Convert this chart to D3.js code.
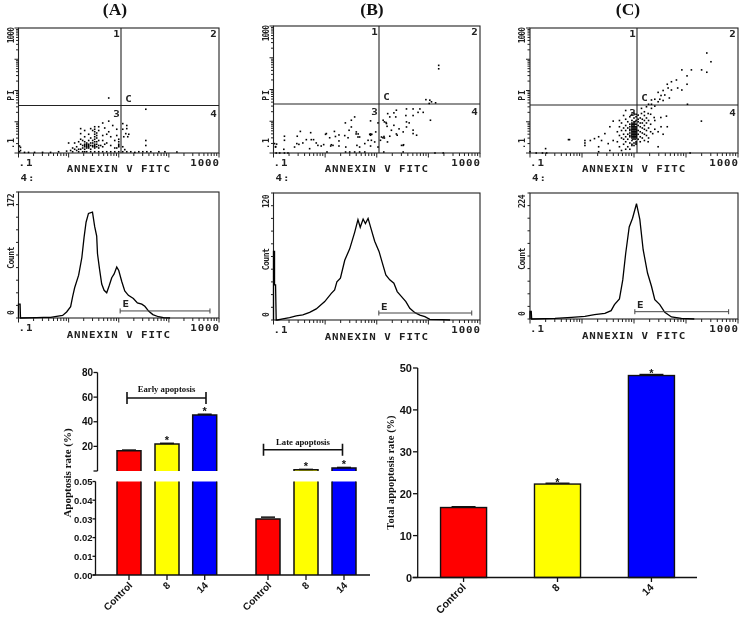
<!DOCTYPE html>
<html><head><meta charset="utf-8">
<script src="https://cdnjs.cloudflare.com/ajax/libs/d3/7.8.5/d3.min.js"></script>
<style>html,body{margin:0;padding:0;background:#fff}svg{display:block}
.flow{filter:blur(0.3px)}
.ft{font-family:"DejaVu Sans Mono",monospace;font-size:8px;fill:#222;font-weight:bold}
.num{font-family:"Liberation Sans",Arial,sans-serif;font-weight:bold;fill:#111}
.ser{font-family:"Liberation Serif","Times New Roman",serif;font-weight:bold;fill:#111}
</style></head><body><div id="c"></div>
<script>
// Scatter events: [annexin channel, PI channel], channels 0-100 over four decades
const scatterA=[[29,5],[30,3],[31,7],[32,4],[32,6],[33,5],[33,7],[34,6],[34,4],[34,8],[35,5],[35,7],[36,6],[36,3],[37,5],[37,8],[38,6],[38,4],[39,7],[39,5],[40,6],[40,10],[38,11],[38,13],[38,15],[39,12],[39,14],[36,12],[35,15],[33,13],[31,11],[30,9],[28,8],[27,4],[25,8],[29,2],[31,15.5],[31,19.5],[33,18],[36,19.5],[38,21],[40,21],[37,18],[40,18],[42,14],[44,15],[42,10],[44,8],[46,6],[46,13],[48,10],[49,14],[48,4],[45,17],[43,20],[42,24],[45,25.5],[47,22],[49,19],[50,11],[50,7],[50,6],[50,5],[50,9],[49,4],[45,44],[63.5,35],[54,22],[54,19.5],[52,23.5],[52,19],[53.5,15.5],[55,15],[54.5,13],[52.5,13],[63.5,10],[63.5,6],[53,2.7],[52,5],[0.5,5.6],[1,2],[1,4.5],[0.5,1],[3,.5],[5,.5],[8,.5],[12,.5],[16,.5],[20,1],[24,1.5],[27,1],[33,1],[36,1],[40,1],[44,1],[58,.5],[70,1],[73,1],[79,.8],[33,6],[34,7],[35,6],[34,5],[35,4],[37,6],[38,7],[38,5],[33,3],[36,8],[37,10],[35,10],[33,9],[32,10],[31,3],[40,4],[41,6],[42,5],[43,7],[39,9],[38,9],[38,17],[39,16],[38,19],[28,3],[26,2],[30,1],[32,1],[34,1],[38,1],[42,1],[46,1],[48,1],[50,1],[52,1],[54,1],[56,1],[60,1],[62,1],[64,1],[66,1]];
const scatterB=[[5.3,13.2],[5.3,10],[5,2.9],[1,4.7],[.5,7.4],[10.2,4.7],[11.3,7.4],[11.5,13.2],[13,17],[18,16],[12.3,6.8],[14.2,7.9],[15.9,10.5],[18.3,10.5],[19.4,10.5],[20.7,7.9],[17.5,3.4],[21.5,6],[23.1,5.5],[24.3,6.6],[25.6,15.3],[25.2,14.7],[27.2,12],[29.5,17],[27.7,5.5],[28.8,6],[31.7,9.5],[31.7,5.5],[31.7,14.2],[34.5,13.7],[36.1,12],[36.6,17.9],[35,4.7],[37.7,20.5],[39.3,28.4],[37.7,25.8],[34.8,23.7],[40.1,16.6],[40.9,12.6],[41.7,12.6],[40.4,6],[41.7,4.7],[44.2,7.4],[45.8,10],[46.6,14.7],[47.6,14.7],[47.4,10],[47,25.3],[50.6,23.7],[49.5,16.6],[49,8.7],[47,5.5],[50.6,4.7],[51.8,10],[52.3,12.6],[53.7,11.8],[53.7,24.5],[54.7,23.2],[55,21],[53.1,25.8],[55.3,31],[56.3,28.4],[58.3,31.6],[59.5,33.7],[59.2,28.4],[58.3,21.8],[57.1,17.9],[56.3,13.2],[55.2,8.7],[59.5,15],[59.9,14],[60.8,19],[64.4,24.5],[65.7,23.7],[64.1,29.5],[64.4,34.7],[67.6,34.7],[67.6,29.5],[70,32],[70.9,34.7],[72.5,32],[67.6,18],[67.6,15.3],[69.3,14],[62.8,6],[62.8,16.6],[64.4,20.5],[76,25.8],[73.8,42],[75.7,41.6],[75.4,39],[76.5,40.3],[78.5,39.5],[80,69],[80,66.3],[25.9,.8],[34.9,.8],[36.9,.8],[39.3,.8],[41.7,.8],[44.2,.8],[53.4,.8],[62.8,.8],[78.2,0],[82.2,0],[1.3,0],[3,0],[5.3,0],[7,0],[53,12],[53.5,13],[62,6],[63,6.5],[54.5,24],[1,5],[1.5,7],[30,13],[28,6.5],[40,15],[41,15],[47,14],[47,15]];
const scatterC=[[85,80],[87,73],[82.5,66.5],[85,64.6],[77.6,66.5],[73,66.5],[75.5,61.7],[75.5,55],[70.4,58.4],[68,57],[66,55],[66.4,52],[71,52],[73,50.4],[68,50.4],[64,50],[61.6,48.5],[64.8,46.4],[67,44],[63,46],[62.4,43],[60,43],[58.4,42.4],[64,42],[61.6,41],[75.7,39],[58.4,39],[60,37.5],[57,39],[56,37],[58.4,35.7],[55,33],[53.6,35.7],[53.6,31.6],[52,30.3],[56.8,31.6],[59.7,28.4],[65.6,29.5],[62.9,28.4],[82.4,25.5],[66,21],[61.6,17],[59,15.5],[61.6,5],[56.8,9],[77,0],[19,10.7],[18.5,10.7],[7.5,3.5],[0,1],[3,0],[6,0],[8,0],[26.4,10],[26.4,8],[26.4,6],[29,10],[31,11.5],[33,13],[36,15.5],[40,25.5],[38.4,21],[34.4,10],[37.6,7.5],[40,10],[33,5],[38.4,2],[44,2],[33,1],[42,17],[43,14],[42,9],[43,5],[43,21],[44,12],[44,18],[44,24],[45,7],[45,11],[45,15],[45,20],[46,3],[46,9],[46,13],[46,18],[46,22],[46,27],[47,5],[47,11],[47,15],[47,20],[47,25],[48,3],[48,8],[48,13],[48,16],[48,19],[48,23],[48,29],[49,6],[49,10],[49,14],[49,18],[49,22],[49,26],[49,31],[50,8],[50,12],[50,13],[50,14],[50,15],[50,16],[50,17],[50,18],[50,19],[50,20],[50,21],[50,22],[50,23],[50,24],[50,25],[50,28],[50,32],[51,8],[51,9],[51,12],[51,14],[51,16],[51,18],[51,20],[51,21],[51,23],[51,26],[51,29],[51,31],[52,11],[52,15],[52,18],[52,22],[52,25],[52,27],[53,9],[53,13],[53,17],[53,21],[53,24],[53,28],[54,12],[54,16],[54,20],[54,24],[54,27],[55,10],[55,15],[55,19],[55,22],[55,26],[55,30],[56,14],[56,18],[56,24],[56,28],[57,12],[57,20],[57,26],[58,17],[58,23],[58,31],[60,19],[60,26],[63,21],[64,15],[46,34],[45,30],[43,26],[49,12],[49,13],[49,15],[49,16],[49,17],[49,19],[49,20],[49,21],[49,23],[49,24],[49.5,11],[49.5,13],[49.5,15],[49.5,17],[49.5,19],[49.5,21],[49.5,23],[50.5,11],[50.5,13],[50.5,15],[50.5,17],[50.5,19],[50.5,21],[50.5,23],[50.5,25],[51,13],[51,15],[51,17],[51,19],[48,14],[48,18],[48,21],[49,7],[50,6],[51,7]];
// Histogram traces: [annexin channel, relative count %]
const histA=[[0,0],[0,11],[.8,11],[1,0],[9,.3],[12.5,.5],[16,.5],[19,1.3],[22,2],[24,4.8],[26,9],[27,17],[28,24],[30,34],[31.6,48],[32.7,64],[33.7,76],[34.9,83],[36.9,84],[38,72.5],[39,65],[39.4,51],[40.4,39],[41.5,27],[42.7,22],[44,20],[45.3,26],[46.5,32],[47.7,35],[49,40.4],[50,37.7],[51.5,29],[53,21.5],[54.8,18],[57.3,15.5],[59.3,12],[61.5,11],[63,9.3],[65,5.3],[67,2.7],[69.8,1],[72.3,.3],[75.6,0]];
const histB=[[0,0],[0,54],[.5,54],[.5,27.6],[1,27.6],[1.3,0],[2,0],[4.5,.8],[7.8,1.8],[11,3.2],[14.2,4],[17.5,6],[20.7,8.7],[24.8,14.5],[28,21],[29.6,23.7],[30.7,30],[32.4,33],[34.5,47],[36.9,56],[39.3,69],[40.9,79],[42,73],[43.4,79.5],[44.5,76],[45.8,80],[47.4,71],[49,62],[51.1,54],[52.7,45],[54.4,35.5],[56.3,31.6],[58.3,29],[59.9,22.4],[62,18.4],[64.1,14.5],[66,9.2],[68.5,5.8],[70.9,3.9],[73.3,2.6],[75.7,.5],[81.4,.3],[85.5,0]];
const histC=[[0,0],[0,6],[.6,6],[.8,0],[1.6,0],[12,.5],[20,1.3],[26.4,2.1],[31,3.4],[36,4.5],[39,6.6],[40.6,11.4],[43,16],[44.6,31],[46,52],[47.7,73],[49.3,80],[51.2,91.5],[52.8,79],[54.4,55],[56.5,36.5],[58.4,26],[60,15.3],[62.4,11.4],[64.8,5.3],[68,1.6],[72.8,.5],[79,0]];
const panelNames=["(A)","(B)","(C)"];
const countMax=["172","120","224"];
const gateStart=[50.7,51,50.4];
const gateEnd=[95.5,96,95.5];
const gateLevel=[5.6,5.5,5.8];
// Bar data
const groupCats=["Control","8","14"];
const earlyRate=[16.5,22,45.5];
const earlyErr=[.5,.5,.6];
const lateRate=[.03,1,2.5];
const lateErr=[.0004,.3,.4];
const totalRate=[16.7,22.3,48.2];
const totalErr=[.2,.2,.25];
const barColors=["#ff0000","#ffff00","#0000ff"];
const upperTicks=[0,20,40,60,80];
const lowerTicks=[0,.01,.02,.03,.04,.05];
const totalTicks=[0,10,20,30,40,50];

const W=745,H=617;
const svg=d3.select("#c").append("svg").attr("width",W).attr("height",H);
const flow=svg.append("g").attr("class","flow");
const frames=[
 {l:18.5,r:219,t:28,b:153,dx:121,dy:105.5,ht:192,hb:318,tx:115},
 {l:273.5,r:480,t:26,b:153,dx:379,dy:104,ht:193,hb:320,tx:372},
 {l:530,r:738,t:28,b:153,dx:637,dy:105,ht:193,hb:319,tx:628}];
const scat=[scatterA,scatterB,scatterC],hist=[histA,histB,histC];
const decade=d3.scaleLog().domain([.1,1000]).range([0,100]);
const minor=[];[.1,1,10,100].forEach(d=>{for(let k=1;k<10;k++)minor.push({v:d*k,major:k===1})});minor.push({v:1000,major:true});

function mono(g,x,y,s,rot,anchor){
  const t=g.append("text").attr("class","ft").attr("text-anchor",anchor||"start").style("letter-spacing",rot?"1px":"0.7px").text(s);
  t.attr("transform",`translate(${x},${y})`+(rot?` rotate(${rot})`:" scale(1.35,1)"));
  return t;
}
function bottomTicks(g,x,b){
  minor.forEach(m=>{const p=x(decade(m.v));
    g.append("line").attr("x1",p).attr("x2",p).attr("y1",b).attr("y2",b+(m.major?4.5:3)).attr("stroke","#222").attr("stroke-width",1);});
}
frames.forEach((f,i)=>{
  svg.append("text").attr("class","ser").attr("x",f.tx).attr("y",15).attr("text-anchor","middle").attr("font-size",17.5).text(panelNames[i]);
  // scatter
  const g=flow.append("g");
  const x=d3.scaleLinear().domain([0,100]).range([f.l,f.r]);
  const y=d3.scaleLinear().domain([0,100]).range([f.b,f.t]);
  g.append("rect").attr("x",f.l).attr("y",f.t).attr("width",f.r-f.l).attr("height",f.b-f.t).attr("fill","none").attr("stroke","#222").attr("stroke-width",1.1);
  g.append("line").attr("x1",f.dx).attr("x2",f.dx).attr("y1",f.t).attr("y2",f.b).attr("stroke","#222").attr("stroke-width",1.1);
  g.append("line").attr("x1",f.l).attr("x2",f.r).attr("y1",f.dy).attr("y2",f.dy).attr("stroke","#222").attr("stroke-width",1.1);
  g.selectAll("rect.pt").data(scat[i]).join("rect").attr("class","pt").attr("x",d=>x(d[0])-.8).attr("y",d=>y(d[1])-.8).attr("width",1.6).attr("height",1.6).attr("fill","#000");
  bottomTicks(g,x,f.b);
  minor.forEach(m=>{const p=y(decade(m.v));
    g.append("line").attr("x1",f.l-(m.major?4:2.5)).attr("x2",f.l).attr("y1",p).attr("y2",p).attr("stroke","#222");});
  mono(g,f.l,f.b+13,".1");
  mono(g,f.r+1,f.b+13,"1000",null,"end");
  mono(g,(f.l+f.r)/2,172,"ANNEXIN V FITC",null,"middle");
  mono(g,f.l+2,181,"4:");
  const ly=f.l-5;
  mono(g,ly,f.t,"1000",-90,"end").style("letter-spacing","-1px");
  mono(g,ly,95,"PI",-90,"middle");
  mono(g,ly,143,".1",-90,"middle");
  [["1",f.dx-4,f.t+9],["2",f.r-5,f.t+9],["3",f.dx-4,f.dy+11],["4",f.r-5,f.dy+11],["C",f.dx+8,f.dy-4]].forEach(q=>mono(g,q[1],q[2],q[0],null,"middle"));
  // histogram
  const h=flow.append("g");
  const hy=d3.scaleLinear().domain([0,100]).range([f.hb,f.ht]);
  h.append("rect").attr("x",f.l).attr("y",f.ht).attr("width",f.r-f.l).attr("height",f.hb-f.ht).attr("fill","none").attr("stroke","#222").attr("stroke-width",1.1);
  h.append("path").attr("d",d3.line().x(d=>x(d[0])).y(d=>hy(d[1]))(hist[i])).attr("fill","none").attr("stroke","#000").attr("stroke-width",1.3);
  bottomTicks(h,x,f.hb);
  d3.range(0,101,10).forEach(v=>{const p=hy(v);h.append("line").attr("x1",f.l-2.5).attr("x2",f.l).attr("y1",p).attr("y2",p).attr("stroke","#222");});
  mono(h,f.l,f.hb+12.5,".1");
  mono(h,f.r+1,f.hb+12.5,"1000",null,"end");
  mono(h,(f.l+f.r)/2,f.hb+19.5,"ANNEXIN V FITC",null,"middle");
  mono(h,ly,f.ht+2,countMax[i],-90,"end").style("letter-spacing","-.5px");
  mono(h,ly,(f.ht+f.hb)/2+3,"Count",-90,"middle").style("letter-spacing","-.5px");
  mono(h,ly,f.hb-6,"0",-90,"middle");
  const gy=hy(gateLevel[i]),g0=x(gateStart[i]),g1=x(gateEnd[i]);
  h.append("path").attr("d",`M${g0},${gy-2.5}V${gy+2.5}M${g0},${gy}H${g1}M${g1},${gy-2.5}V${gy+2.5}`).attr("fill","none").attr("stroke","#444");
  mono(h,g0+6,gy-3.5,"E",null,"middle");
});

// Left broken-axis bar chart
const bar=svg.append("g");
const axU=97.5,axL=95.5;
const upper=d3.scaleLinear().domain([0,80]).range([471,372.5]);
const lower=d3.scaleLinear().domain([0,.05]).range([575,481.5]);
const bandW=24;
const xPos=[129,167,204.7,268,306,344];
const stroke="#111";
function star(cx,t,g){(g||bar).append("text").attr("class","num").attr("x",cx).attr("y",t+.5).attr("text-anchor","middle").attr("font-size",11).text("*");}
function drawBar(cx,v,err,col){
  const hw=bandW/2;
  const topL=v>=.05?lower(.05):lower(v);
  bar.append("rect").attr("x",cx-hw).attr("y",topL).attr("width",2*hw).attr("height",575-topL).attr("fill",col);
  bar.append("path").attr("d",`M${cx-hw},575V${topL}`+(v>=.05?`M${cx+hw},${topL}`:`H${cx+hw}`)+`V575`).attr("fill","none").attr("stroke",stroke).attr("stroke-width",1.5);
  if(v>=.05){
    const t=upper(v);
    bar.append("rect").attr("x",cx-hw).attr("y",t).attr("width",2*hw).attr("height",471-t).attr("fill",col);
    bar.append("path").attr("d",`M${cx-hw},471V${t}H${cx+hw}V471`).attr("fill","none").attr("stroke",stroke).attr("stroke-width",1.5);
    const e=upper(v+err);
    bar.append("line").attr("x1",cx-7).attr("x2",cx+7).attr("y1",e).attr("y2",e).attr("stroke",stroke).attr("stroke-width",1.5);
    if(cx!==xPos[0])star(cx,t);
  }else{
    const e=lower(v+err)-1;
    bar.append("line").attr("x1",cx-7).attr("x2",cx+7).attr("y1",e).attr("y2",e).attr("stroke",stroke).attr("stroke-width",1.5);
  }
}
groupCats.forEach((c,i)=>{
  drawBar(xPos[i],earlyRate[i],earlyErr[i],barColors[i]);
  drawBar(xPos[i+3],lateRate[i],lateErr[i],barColors[i]);
});
bar.append("path").attr("d",`M${axU},372.5V471`).attr("stroke",stroke).attr("stroke-width",1.3).attr("fill","none");
bar.append("path").attr("d",`M${axL},481.5V575M${axL-3},575H370`).attr("stroke",stroke).attr("stroke-width",1.3).attr("fill","none");
upperTicks.forEach(v=>{
  bar.append("line").attr("x1",axU-4).attr("x2",axU).attr("y1",upper(v)).attr("y2",upper(v)).attr("stroke",stroke).attr("stroke-width",1.3);
  if(v>0)bar.append("text").attr("class","num").attr("x",93).attr("y",upper(v)+3.6).attr("text-anchor","end").attr("font-size",10).text(v);
});
lowerTicks.forEach(v=>{
  bar.append("line").attr("x1",axL-3).attr("x2",axL).attr("y1",lower(v)).attr("y2",lower(v)).attr("stroke",stroke).attr("stroke-width",1.3);
  bar.append("text").attr("class","num").attr("x",92.5).attr("y",lower(v)+3.6).attr("text-anchor","end").attr("font-size",9.5).text(v.toFixed(2));
});
xPos.forEach((cx,i)=>{
  bar.append("line").attr("x1",cx).attr("x2",cx).attr("y1",575).attr("y2",580).attr("stroke",stroke).attr("stroke-width",1.3);
  bar.append("text").attr("class","num").attr("text-anchor","end").attr("font-size",10).attr("transform",`translate(${cx+4},${586}) rotate(-45)`).text(groupCats[i%3]);
});
bar.append("text").attr("class","ser").attr("font-size",11).attr("text-anchor","middle").attr("transform","translate(70.5,473) rotate(-90)").text("Apoptosis rate (%)");
function bracket(x0,x1,y,label,ty){
  bar.append("path").attr("d",`M${x0},${y-6}V${y+6}M${x0},${y}H${x1}M${x1},${y-6}V${y+6}`).attr("fill","none").attr("stroke",stroke).attr("stroke-width",1.6);
  bar.append("text").attr("class","ser").attr("x",(x0+x1)/2).attr("y",ty).attr("text-anchor","middle").attr("font-size",8.7).text(label);
}
bracket(127,206,398,"Early apoptosis",392);
bracket(263.5,342.5,449.7,"Late apoptosis",445);

// Right bar chart
const ry=d3.scaleLinear().domain([0,50]).range([577.5,368]);
const rx=d3.scaleBand().domain(groupCats).range([418,697]).paddingInner(.51).paddingOuter(.24);
const rb=svg.append("g");
groupCats.forEach((c,i)=>{
  const v=totalRate[i],t=ry(v),e=ry(v+totalErr[i]),cx=rx(c)+rx.bandwidth()/2;
  rb.append("rect").attr("x",rx(c)).attr("y",t).attr("width",rx.bandwidth()).attr("height",577.5-t).attr("fill",barColors[i]).attr("stroke",stroke).attr("stroke-width",1.4);
  rb.append("line").attr("x1",cx-12).attr("x2",cx+12).attr("y1",e).attr("y2",e).attr("stroke",stroke).attr("stroke-width",1.4);
  if(i>0)star(cx,t+1,rb);
  rb.append("line").attr("x1",cx).attr("x2",cx).attr("y1",577.5).attr("y2",582).attr("stroke",stroke).attr("stroke-width",1.3);
  rb.append("text").attr("class","num").attr("text-anchor","end").attr("font-size",10.5).attr("transform",`translate(${cx+3},${588}) rotate(-45)`).text(c);
});
rb.append("path").attr("d",`M417.7,368V577.5M412.5,577.5H697`).attr("fill","none").attr("stroke",stroke).attr("stroke-width",1.3);
totalTicks.forEach(v=>{
  rb.append("line").attr("x1",413).attr("x2",417.7).attr("y1",ry(v)).attr("y2",ry(v)).attr("stroke",stroke).attr("stroke-width",1.3);
  rb.append("text").attr("class","num").attr("x",412).attr("y",ry(v)+4).attr("text-anchor","end").attr("font-size",11).text(v);
});
rb.append("text").attr("class","ser").attr("font-size",10.5).attr("text-anchor","middle").attr("transform","translate(394,472.5) rotate(-90)").text("Total appoptosis rate (%)");
</script></body></html>
